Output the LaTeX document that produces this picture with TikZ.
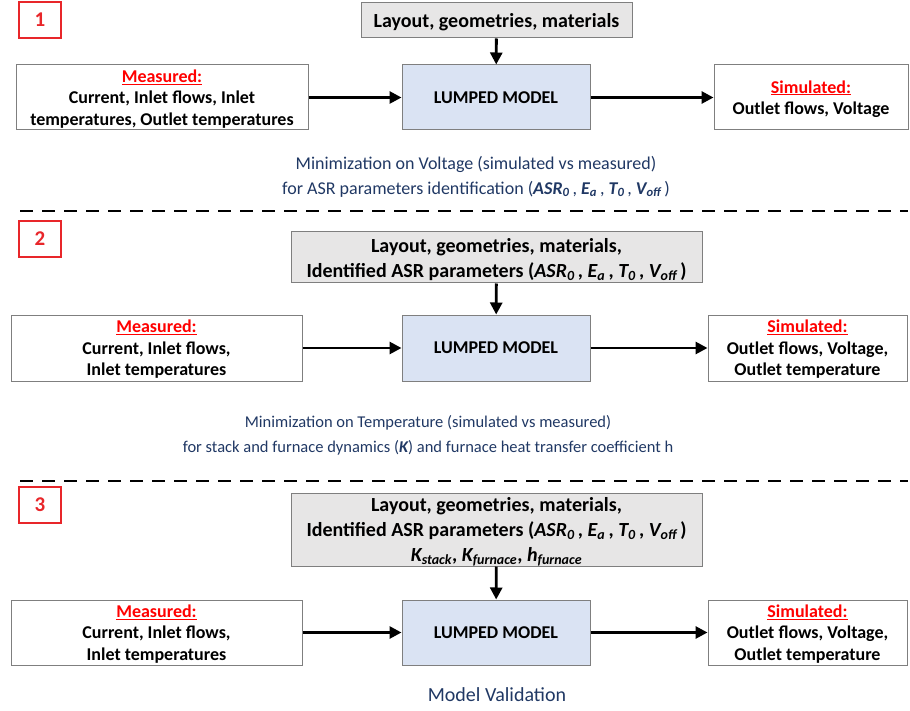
\documentclass[tikz,border=0pt]{standalone}
\usepackage{fontspec}
\setmainfont{Carlito}
\usetikzlibrary{arrows.meta}
\definecolor{boxline}{HTML}{7F7F7F}
\definecolor{greyfill}{HTML}{E7E6E6}
\definecolor{modelfill}{HTML}{DAE3F3}
\definecolor{numred}{HTML}{E8262A}
\definecolor{noteblue}{HTML}{203864}
\newcommand{\hl}[1]{\textcolor{red}{\underline{#1}}}
\newcommand{\bi}[1]{{\bfseries\itshape #1}}
\newcommand{\asrset}{(\bi{ASR\textsubscript{0}}\,, \bi{E\textsubscript{a}}\,, \bi{T\textsubscript{0}}\,, \bi{V\textsubscript{off}}\,)}
\tikzset{
  basebox/.style={draw=boxline, line width=1pt, inner sep=0pt, align=center,
    text depth=0pt, font=\fontsize{18}{21.5}\selectfont\bfseries},
  inputbox/.style={basebox, fill=greyfill, font=\fontsize{20}{25}\selectfont\bfseries},
  modelbox/.style={basebox, fill=modelfill},
  databox/.style={basebox, fill=white},
  numbox/.style={draw=numred, line width=2pt, text=numred, inner sep=0pt,
    minimum width=42pt, minimum height=36pt, font=\fontsize{21}{24}\selectfont\bfseries},
  note/.style={text=noteblue, align=center, text depth=0pt, font=\fontsize{18}{25}\selectfont},
  flow/.style={line width=2.8pt, -{Triangle[length=12pt,width=12pt]}},
  divider/.style={line width=2.8pt, dash pattern=on 13pt off 9pt},
}
\begin{document}
\begin{tikzpicture}[x=1pt,y=-1pt]
\useasboundingbox (0,0) rectangle (910,711);

% ---------- step 1 ----------
\node[numbox] (n1) at (40,20) {1};
\node[inputbox, minimum width=271pt, minimum height=35pt] (top1) at (496.5,20.5)
  {Layout, geometries, materials};
\node[databox, minimum width=292pt, minimum height=65pt] (meas1) at (162,97.5)
  {\hl{Measured:}\\Current, Inlet flows, Inlet\\temperatures, Outlet temperatures};
\node[modelbox, minimum width=188pt, minimum height=65pt] (lump1) at (496,97.5) {LUMPED MODEL};
\node[databox, minimum width=194pt, minimum height=65pt] (sim1) at (811,97.5)
  {\hl{Simulated:}\\Outlet flows, Voltage};
\draw[flow] (top1) -- (lump1);
\draw[flow] (meas1) -- (lump1);
\draw[flow] (lump1) -- (sim1);
\node[note] (note1) at (476,175)
  {Minimization on Voltage (simulated vs measured)\\for ASR parameters identification \asrset};
\coordinate (d1l) at (20,211);
\coordinate (d1r) at (908,211);
\draw[divider] (d1l) -- (d1r);

% ---------- step 2 ----------
\node[numbox] (n2) at (40,239) {2};
\node[inputbox, minimum width=411pt, minimum height=51pt] (top2) at (496.5,257.5)
  {Layout, geometries, materials,\\Identified ASR parameters \asrset};
\node[databox, minimum width=291pt, minimum height=66pt] (meas2) at (156.5,348)
  {\hl{Measured:}\\Current, Inlet flows,\\Inlet temperatures};
\node[modelbox, minimum width=188pt, minimum height=66pt] (lump2) at (496,348) {LUMPED MODEL};
\node[databox, minimum width=199pt, minimum height=66pt] (sim2) at (807.5,348)
  {\hl{Simulated:}\\Outlet flows, Voltage,\\Outlet temperature};
\draw[flow] (top2) -- (lump2);
\draw[flow] (meas2) -- (lump2);
\draw[flow] (lump2) -- (sim2);
\node[note, font=\fontsize{16.5}{25}\selectfont] (note2) at (428,434)
  {Minimization on Temperature (simulated vs measured)\\for stack and furnace dynamics (\bi{K}) and furnace heat transfer coefficient h};
\coordinate (d2l) at (20,481);
\coordinate (d2r) at (908,481);
\draw[divider] (d2l) -- (d2r);

% ---------- step 3 ----------
\node[numbox] (n3) at (40,504.5) {3};
\node[inputbox, minimum width=411pt, minimum height=73pt] (top3) at (496.5,529.5)
  {Layout, geometries, materials,\\Identified ASR parameters \asrset\\
   \bi{K\textsubscript{stack}}, \bi{K\textsubscript{furnace}}, \bi{h\textsubscript{furnace}}};
\node[databox, minimum width=291pt, minimum height=65pt] (meas3) at (156.5,632.5)
  {\hl{Measured:}\\Current, Inlet flows,\\Inlet temperatures};
\node[modelbox, minimum width=188pt, minimum height=65pt] (lump3) at (496,632.5) {LUMPED MODEL};
\node[databox, minimum width=199pt, minimum height=65pt] (sim3) at (807.5,632.5)
  {\hl{Simulated:}\\Outlet flows, Voltage,\\Outlet temperature};
\draw[flow] (top3) -- (lump3);
\draw[flow] (meas3) -- (lump3);
\draw[flow] (lump3) -- (sim3);
\node[note, font=\fontsize{20}{25}\selectfont] (note3) at (497,695) {Model Validation};
\end{tikzpicture}
\end{document}
